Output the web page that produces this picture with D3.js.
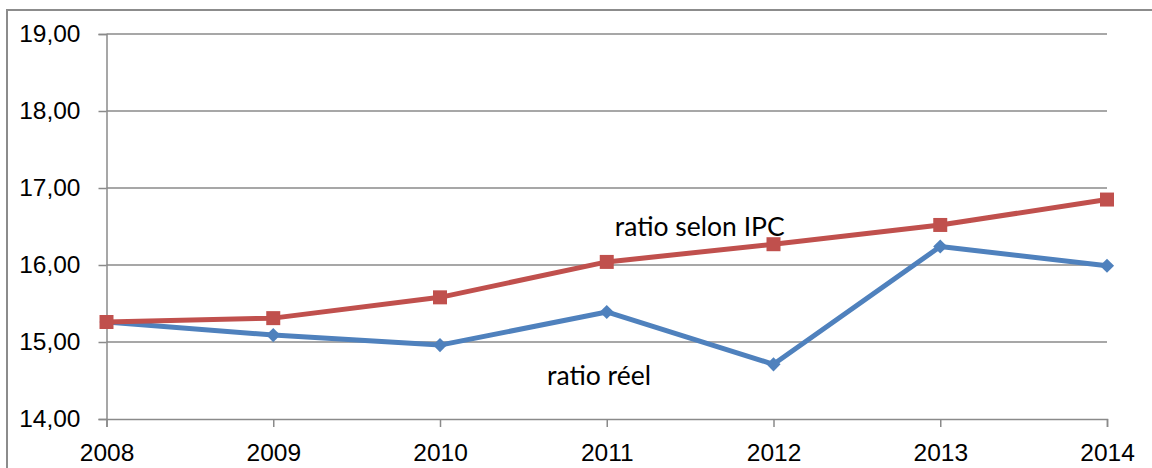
<!DOCTYPE html>
<html>
<head>
<meta charset="utf-8">
<script src="https://cdn.jsdelivr.net/npm/d3@7"></script>
<style>
  body { margin: 0; background: #fff; }
  svg { display: block; font-family: Lato, "Open Sans", sans-serif; }
</style>
</head>
<body>
<svg id="chart" width="1152" height="468"></svg>
<script>
const years = [2008, 2009, 2010, 2011, 2012, 2013, 2014];
const ratioIPC = [15.26, 15.31, 15.58, 16.04, 16.27, 16.52, 16.85];
const ratioReel = [15.26, 15.09, 14.96, 15.39, 14.71, 16.24, 15.99];
const yTicks = [14, 15, 16, 17, 18, 19];
const labels = [
  { text: 'ratio selon IPC', year: 2011, value: 16.38, dx: 8 },
  { text: 'ratio réel', year: 2010, value: 14.44, dx: 107 }
];

const svg = d3.select('#chart');
const margin = { left: 106.5, right: 45, top: 34, bottom: 49 };
const W = 1152, H = 468;

const x = d3.scaleLinear().domain([2008, 2014]).range([margin.left, W - margin.right]);
const y = d3.scaleLinear().domain([14, 19]).range([H - margin.bottom, margin.top]);

// outer frame (cropped at right and bottom)
svg.append('rect')
  .attr('x', 7).attr('y', 10).attr('width', W + 10).attr('height', H + 10)
  .attr('fill', 'none').attr('stroke', '#8c8c8c').attr('stroke-width', 2);

// gridlines
svg.append('g').selectAll('line').data(yTicks.slice(1)).join('line')
  .attr('x1', x(2008)).attr('x2', x(2014))
  .attr('y1', d => y(d)).attr('y2', d => y(d))
  .attr('stroke', '#8a8a8a').attr('stroke-width', 1.5);

// y axis
const yAxis = svg.append('g').attr('transform', `translate(${x(2008)},0)`)
  .call(d3.axisLeft(y).tickValues(yTicks).tickSize(8).tickPadding(18)
    .tickFormat(d => d3.format('.2f')(d).replace('.', ',')));
yAxis.select('.domain').attr('stroke', '#8a8a8a').attr('stroke-width', 1.5);
yAxis.selectAll('.tick line').attr('stroke', '#8a8a8a').attr('stroke-width', 1.5);
yAxis.selectAll('text').style('font-size', '24.5px').attr('fill', '#000');

// x axis
const xAxis = svg.append('g').attr('transform', `translate(0,${y(14)})`)
  .call(d3.axisBottom(x).tickValues(years).tickSize(8).tickPadding(17).tickFormat(d3.format('d')));
xAxis.select('.domain').attr('stroke', '#8a8a8a').attr('stroke-width', 1.5);
xAxis.selectAll('.tick line').attr('stroke', '#8a8a8a').attr('stroke-width', 1.5);
xAxis.selectAll('text').style('font-size', '24.5px').attr('fill', '#000');

const line = d3.line().x(d => x(d[0])).y(d => y(d[1]));

const series = [
  { values: ratioIPC, color: '#C0504D', size: 196, rotate: 0 },
  { values: ratioReel, color: '#4F81BD', size: 100, rotate: 45 }
];

// draw blue first, red on top
[series[1], series[0]].forEach(s => {
  const pts = years.map((yr, i) => [yr, s.values[i]]);
  svg.append('path').datum(pts)
    .attr('d', line).attr('fill', 'none')
    .attr('stroke', s.color).attr('stroke-width', 5).attr('stroke-linejoin', 'round');
  svg.append('g').selectAll('path').data(pts).join('path')
    .attr('transform', d => `translate(${x(d[0])},${y(d[1])}) rotate(${s.rotate})`)
    .attr('d', d3.symbol().type(d3.symbolSquare).size(s.size))
    .attr('fill', s.color);
});

// series labels
svg.append('g').selectAll('text').data(labels).join('text')
  .attr('x', d => x(d.year) + d.dx)
  .attr('y', d => y(d.value))
  .style('font-size', '26.5px')
  .text(d => d.text);
</script>
</body>
</html>
